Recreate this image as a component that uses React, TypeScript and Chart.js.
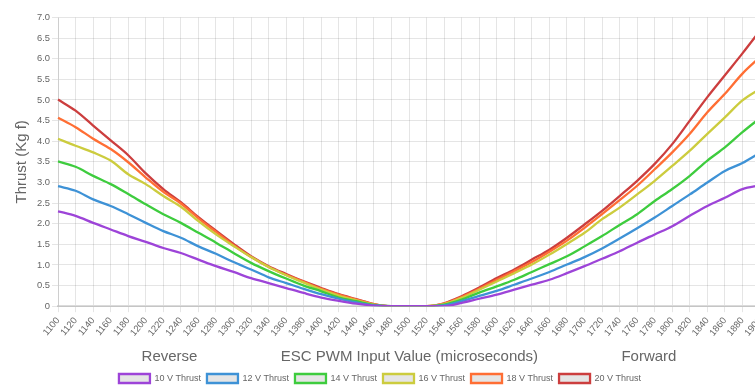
import React, { useEffect, useRef } from "react";
import { Chart, registerables } from "chart.js";

Chart.register(...registerables);

const FONT = "'Liberation Sans', Arial, Helvetica, sans-serif";

// PWM input values (microseconds), x-axis categories / tick labels
const pwmLabels = [
  "1100", "1120", "1140", "1160", "1180", "1200", "1220", "1240", "1260", "1280",
  "1300", "1320", "1340", "1360", "1380", "1400", "1420", "1440", "1460", "1480",
  "1500", "1520", "1540", "1560", "1580", "1600", "1620", "1640", "1660", "1680",
  "1700", "1720", "1740", "1760", "1780", "1800", "1820", "1840", "1860", "1880",
  "1900",
];

// Y tick labels (0 .. 7.0 step 0.5)
const thrustTickLabels = [
  "0", "0.5", "1.0", "1.5", "2.0", "2.5", "3.0", "3.5",
  "4.0", "4.5", "5.0", "5.5", "6.0", "6.5", "7.0",
];

// Thrust (Kg f) per supply voltage
const thrust10V = [
  2.30, 2.19, 2.02, 1.86, 1.70, 1.56, 1.41, 1.29, 1.13, 0.97,
  0.83, 0.68, 0.56, 0.44, 0.32, 0.21, 0.13, 0.06, 0.01, 0,
  0, 0, 0, 0.08, 0.18, 0.28, 0.40, 0.52, 0.64, 0.80,
  0.97, 1.15, 1.33, 1.54, 1.74, 1.94, 2.19, 2.43, 2.63, 2.84,
  2.93,
];
const thrust12V = [
  2.91, 2.80, 2.59, 2.43, 2.23, 2.02, 1.82, 1.66, 1.45, 1.27,
  1.07, 0.89, 0.70, 0.56, 0.42, 0.29, 0.18, 0.09, 0.02, 0,
  0, 0, 0.02, 0.12, 0.25, 0.37, 0.52, 0.67, 0.83, 1.01,
  1.19, 1.40, 1.64, 1.89, 2.15, 2.43, 2.71, 3.00, 3.28, 3.47,
  3.72,
];
const thrust14V = [
  3.51, 3.38, 3.16, 2.96, 2.72, 2.47, 2.23, 2.02, 1.78, 1.54,
  1.29, 1.05, 0.85, 0.67, 0.50, 0.36, 0.21, 0.12, 0.03, 0,
  0, 0, 0.04, 0.16, 0.33, 0.48, 0.64, 0.83, 1.02, 1.21,
  1.45, 1.70, 1.97, 2.23, 2.55, 2.84, 3.16, 3.53, 3.85, 4.22,
  4.56,
];
const thrust16V = [
  4.06, 3.89, 3.73, 3.53, 3.20, 2.96, 2.67, 2.41, 2.06, 1.74,
  1.46, 1.19, 0.95, 0.75, 0.57, 0.40, 0.25, 0.14, 0.04, 0,
  0, 0, 0.05, 0.20, 0.40, 0.60, 0.80, 1.01, 1.25, 1.51,
  1.78, 2.11, 2.39, 2.71, 3.04, 3.40, 3.77, 4.18, 4.58, 4.99,
  5.27,
];
const thrust18V = [
  4.57, 4.34, 4.06, 3.81, 3.49, 3.12, 2.77, 2.49, 2.13, 1.80,
  1.48, 1.19, 0.95, 0.76, 0.59, 0.42, 0.28, 0.16, 0.05, 0,
  0, 0, 0.06, 0.22, 0.42, 0.64, 0.85, 1.07, 1.32, 1.59,
  1.90, 2.23, 2.57, 2.92, 3.32, 3.73, 4.18, 4.70, 5.15, 5.64,
  6.04,
];
const thrust20V = [
  5.01, 4.74, 4.38, 4.02, 3.66, 3.22, 2.84, 2.52, 2.16, 1.83,
  1.51, 1.21, 0.97, 0.78, 0.60, 0.44, 0.29, 0.17, 0.05, 0,
  0, 0, 0.07, 0.24, 0.45, 0.68, 0.89, 1.13, 1.37, 1.66,
  1.98, 2.31, 2.67, 3.04, 3.45, 3.93, 4.50, 5.07, 5.60, 6.13,
  6.68,
];

const seriesNames = ["10 V Thrust", "12 V Thrust", "14 V Thrust", "16 V Thrust", "18 V Thrust", "20 V Thrust"];
const seriesValues = [thrust10V, thrust12V, thrust14V, thrust16V, thrust18V, thrust20V];
const seriesColors = [
  "rgb(157, 68, 216)",
  "rgb(62, 146, 214)",
  "rgb(62, 204, 62)",
  "rgb(204, 204, 62)",
  "rgb(255, 110, 52)",
  "rgb(204, 62, 62)",
];

const xTitle =
  "Reverse" + " ".repeat(20) + "ESC PWM Input Value (microseconds)" + " ".repeat(20) + "Forward";
const yTitle = "Thrust (Kg f)";

export default function App() {
  const ref = useRef<HTMLCanvasElement | null>(null);

  useEffect(() => {
    if (!ref.current) return;
    const chart = new Chart(ref.current, {
      type: "line",
      data: {
        labels: pwmLabels,
        datasets: seriesNames.map((name, i) => ({
          label: name,
          data: seriesValues[i],
          borderColor: seriesColors[i],
          backgroundColor: "rgba(0,0,0,0.1)",
          borderWidth: 2.3,
          pointRadius: 0,
          fill: false,
          cubicInterpolationMode: "monotone" as const,
        })),
      },
      options: {
        responsive: false,
        animation: false,
        layout: { padding: { top: 17.5, left: 0, right: 0, bottom: 0 } },
        plugins: {
          legend: {
            position: "bottom",
            labels: {
              boxWidth: 31,
              boxHeight: 9,
              padding: 6,
              color: "#666",
              font: { size: 9, family: FONT },
            },
          },
          tooltip: { enabled: false },
        },
        scales: {
          x: {
            type: "category",
            grid: { color: "rgba(0,0,0,0.1)", tickLength: 6 },
            border: { color: "rgba(0,0,0,0.14)", width: 2 },
            ticks: {
              autoSkip: false,
              minRotation: 50,
              maxRotation: 50,
              padding: 3,
              color: "#666",
              font: { size: 9.4, family: FONT },
            },
            title: {
              display: true,
              text: xTitle,
              color: "#666",
              font: { size: 15, family: FONT },
              padding: { top: 6.3, bottom: 2.3 },
            },
            afterFit: (scale: any) => {
              scale.paddingRight = 0;
            },
          },
          y: {
            min: 0,
            max: 7,
            grid: { color: "rgba(0,0,0,0.1)", tickLength: 6 },
            border: { color: "rgba(0,0,0,0.1)" },
            ticks: {
              stepSize: 0.5,
              padding: 2,
              color: "#666",
              font: { size: 9.4, family: FONT },
              callback: (_v: any, i: number) => thrustTickLabels[i],
            },
            title: {
              display: true,
              text: yTitle,
              color: "#666",
              font: { size: 15, family: FONT },
              padding: { top: 13, bottom: 4 },
            },
          },
        },
      },
    });
    return () => chart.destroy();
  }, []);

  return (
    <div
      style={{
        position: "absolute",
        left: 0,
        top: 0,
        width: 755,
        height: 385,
        overflow: "hidden",
        background: "#fff",
      }}
    >
      <canvas ref={ref} width={760} height={393} style={{ display: "block" }} />
    </div>
  );
}
